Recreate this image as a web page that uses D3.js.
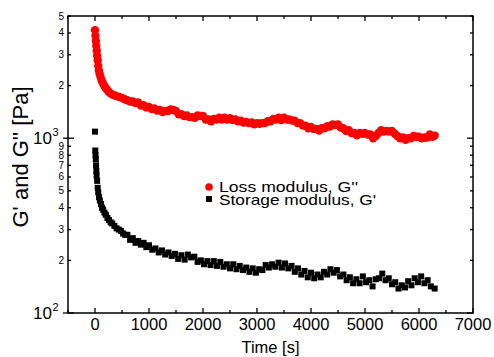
<!DOCTYPE html>
<html>
<head>
<meta charset="utf-8">
<script src="https://cdn.jsdelivr.net/npm/d3@7"></script>
<style>
  body { margin: 0; background: #fff; }
  text { font-family: "Liberation Sans", Arial, sans-serif; fill: #000; }
</style>
</head>
<body>
<svg id="chart" width="494" height="357"></svg>
<script>
// loss modulus G'' : [time s, Pa]
var lossData = [
  [0,4150],[8,3850],[16,3600],[24,3380],[32,3160],[40,2960],[50,2780],[60,2600],[72,2440],[85,2340],
  [100,2250],[120,2150],[140,2080],[165,2010],[190,1950],[220,1900],[250,1850],[280,1810],[320,1780],
  [360,1760],[400,1740],[450,1720],[500,1700],[550,1670],
  [600,1650],[650,1620],[700,1620],[750,1590],[800,1600],[850,1540],[900,1545],[950,1500],[1000,1510],
  [1050,1470],[1100,1480],[1150,1440],[1200,1450],[1250,1410],[1300,1430],[1350,1430],[1400,1460],
  [1450,1450],[1500,1430],[1550,1370],[1600,1370],[1650,1340],[1700,1350],[1750,1320],[1800,1320],
  [1850,1310],[1900,1350],[1950,1340],[2000,1340],[2050,1280],[2100,1280],[2150,1250],[2200,1290],
  [2250,1280],[2300,1310],[2350,1280],[2400,1310],[2450,1280],[2500,1300],[2550,1270],[2600,1280],
  [2650,1250],[2700,1260],[2750,1230],[2800,1240],[2850,1220],[2900,1230],[2950,1200],[3000,1220],
  [3050,1210],[3100,1220],[3150,1220],[3200,1250],[3250,1250],[3300,1290],[3350,1280],[3400,1310],
  [3450,1270],[3500,1310],[3550,1280],[3600,1280],[3650,1260],[3700,1260],[3750,1220],[3800,1220],
  [3850,1180],[3900,1180],[3950,1140],[4000,1160],[4050,1130],[4100,1130],[4150,1105],[4200,1140],
  [4250,1140],[4300,1170],[4350,1165],[4400,1200],[4450,1190],[4500,1200],[4550,1150],[4600,1140],
  [4650,1100],[4700,1110],[4750,1070],[4800,1070],[4850,1040],[4900,1070],[4950,1060],[5000,1070],
  [5050,1050],[5100,1050],[5150,1000],[5200,1030],[5250,1070],[5300,1110],[5350,1090],[5400,1100],
  [5450,1090],[5500,1100],[5550,1060],[5600,1030],[5650,1000],[5700,1010],[5750,980],[5800,1000],
  [5850,1000],[5900,1030],[5950,1020],[6000,1020],[6050,1000],[6100,1010],[6150,1010],[6200,1050],
  [6250,1020],[6290,1035]
];

// storage modulus G' : [time s, Pa]
var storageData = [
  [0,1090],[5,850],[10,800],[15,760],[20,700],[25,650],[30,610],[40,570],[50,520],[60,490],[75,460],
  [90,440],[110,420],[130,400],[150,390],[175,375],[200,365],[230,350],[260,340],[290,330],[320,325],
  [360,315],[400,305],[440,300],[480,295],[520,285],[560,280],
  [600,280],[650,262],[700,268],[750,252],[800,258],[850,246],[900,252],[950,238],[1000,244],
  [1060,230],[1120,234],[1180,222],[1240,228],[1300,216],[1360,222],[1420,212],[1480,218],[1540,204],
  [1600,214],[1660,202],[1720,216],[1780,208],[1840,210],[1900,196],[1960,200],[2020,190],[2080,198],
  [2140,188],[2200,198],[2260,186],[2320,196],[2380,184],[2440,190],[2500,180],[2560,190],[2620,178],
  [2680,186],[2740,176],[2800,182],[2860,172],[2920,180],[2980,170],[3040,178],[3100,176],[3160,188],
  [3220,182],[3280,190],[3340,184],[3400,194],[3460,182],[3520,192],[3580,180],[3640,186],[3700,172],
  [3760,180],[3820,166],[3880,174],[3940,160],[4000,170],[4060,158],[4120,166],[4180,160],[4240,172],
  [4300,166],[4360,178],[4420,170],[4480,176],[4540,162],[4600,166],[4660,154],[4720,160],[4780,148],
  [4840,156],[4900,148],[4960,162],[5020,150],[5080,154],[5140,142],[5200,156],[5260,158],[5320,168],
  [5380,154],[5440,158],[5500,146],[5560,150],[5620,138],[5680,144],[5740,140],[5800,152],[5860,144],
  [5920,158],[5980,150],[6040,162],[6100,148],[6160,154],[6220,142],[6290,138]
];

var xMajorTicks = [0,1000,2000,3000,4000,5000,6000,7000];
var xMinorTicks = [-500,500,1500,2500,3500,4500,5500,6500];
var yMajorTicks = [100,1000];
var yMajorExp = ["2","3"];
var yMinorTicks = [200,300,400,500,600,700,800,900,2000,3000,4000,5000];
var yMinorLabels = ["2","3","4","5","6","7","8","9","2","3","4","5"];
var legendLabels = ["Loss modulus, G''", "Storage modulus, G'"];

function drawChart() {
    var svg = d3.select("#chart"),
        pL = 68, pR = 473, pT = 16, pB = 313;

    var x = d3.scaleLinear().domain([-500, 7000]).range([pL, pR]);
    var y = d3.scaleLog().domain([100, 5000]).range([pB, pT]);

    var g = svg.append("g");

    // data
    g.append("g").selectAll("circle")
        .data(lossData)
        .enter().append("circle")
        .attr("cx", function(d) { return x(d[0]); })
        .attr("cy", function(d) { return y(d[1]); })
        .attr("r", 4.2)
        .attr("fill", "#ff0000");

    var sq = 6;
    g.append("g").selectAll("rect")
        .data(storageData)
        .enter().append("rect")
        .attr("x", function(d) { return x(d[0]) - sq / 2; })
        .attr("y", function(d) { return y(d[1]) - sq / 2; })
        .attr("width", sq)
        .attr("height", sq)
        .attr("fill", "#000");

    // frame
    g.append("rect")
        .attr("x", pL).attr("y", pT)
        .attr("width", pR - pL).attr("height", pB - pT)
        .attr("fill", "none").attr("stroke", "#000").attr("stroke-width", 1.5);

    // x ticks, bottom and top, pointing inwards
    var ticks = g.append("g").attr("stroke", "#000").attr("stroke-width", 1.3);
    xMajorTicks.concat(xMinorTicks).forEach(function(t) {
        var len = xMajorTicks.indexOf(t) >= 0 ? 5 : 3;
        ticks.append("line").attr("x1", x(t)).attr("x2", x(t)).attr("y1", pB).attr("y2", pB - len);
        ticks.append("line").attr("x1", x(t)).attr("x2", x(t)).attr("y1", pT).attr("y2", pT + len);
    });

    // y ticks, left and right
    yMajorTicks.concat(yMinorTicks).forEach(function(v) {
        var major = yMajorTicks.indexOf(v) >= 0, len = major ? 6 : 3;
        ticks.append("line").attr("x1", pL).attr("x2", pL + len).attr("y1", y(v)).attr("y2", y(v));
        ticks.append("line").attr("x1", pR).attr("x2", pR - len).attr("y1", y(v)).attr("y2", y(v));
        if (major) ticks.append("line").attr("x1", pL - 5).attr("x2", pL).attr("y1", y(v)).attr("y2", y(v));
    });

    // x tick labels
    g.append("g").selectAll("text")
        .data(xMajorTicks)
        .enter().append("text")
        .attr("x", function(d) { return x(d); })
        .attr("y", 330)
        .attr("text-anchor", "middle")
        .style("font-size", "16.5px")
        .text(function(d) { return d; });

    g.append("text")
        .attr("x", (pL + pR) / 2).attr("y", 353)
        .attr("text-anchor", "middle")
        .style("font-size", "16.5px")
        .text("Time [s]");

    // y labels
    yMajorTicks.forEach(function(v, i) {
        g.append("text")
            .attr("x", 52).attr("y", y(v) + 6)
            .attr("text-anchor", "end")
            .style("font-size", "17px")
            .text("10");
        g.append("text")
            .attr("x", 52.5).attr("y", y(v) - 2)
            .style("font-size", "11px")
            .text(yMajorExp[i]);
    });

    g.append("g").selectAll("text")
        .data(yMinorTicks)
        .enter().append("text")
        .attr("x", 64)
        .attr("y", function(d) { return y(d) + 3.5; })
        .attr("text-anchor", "end")
        .style("font-size", "10px")
        .text(function(d, i) { return yMinorLabels[i]; });

    g.append("text")
        .attr("transform", "translate(28,157) rotate(-90)")
        .attr("text-anchor", "middle")
        .style("font-size", "22px")
        .text("G' and G'' [Pa]");

    // legend
    var legend = g.append("g");
    legend.append("circle").attr("cx", 209).attr("cy", 187).attr("r", 3.8).attr("fill", "#ff0000");
    legend.append("rect").attr("x", 206).attr("y", 196).attr("width", 6).attr("height", 6).attr("fill", "#000");
    legend.selectAll("text.lg")
        .data(legendLabels)
        .enter().append("text")
        .attr("class", "lg")
        .attr("x", 219)
        .attr("y", function(d, i) { return 192 + i * 12.7; })
        .attr("textLength", function(d, i) { return i ? 157 : 139; })
        .attr("lengthAdjust", "spacingAndGlyphs")
        .style("font-size", "15px")
        .text(function(d) { return d; });
}

drawChart();
</script>
</body>
</html>
